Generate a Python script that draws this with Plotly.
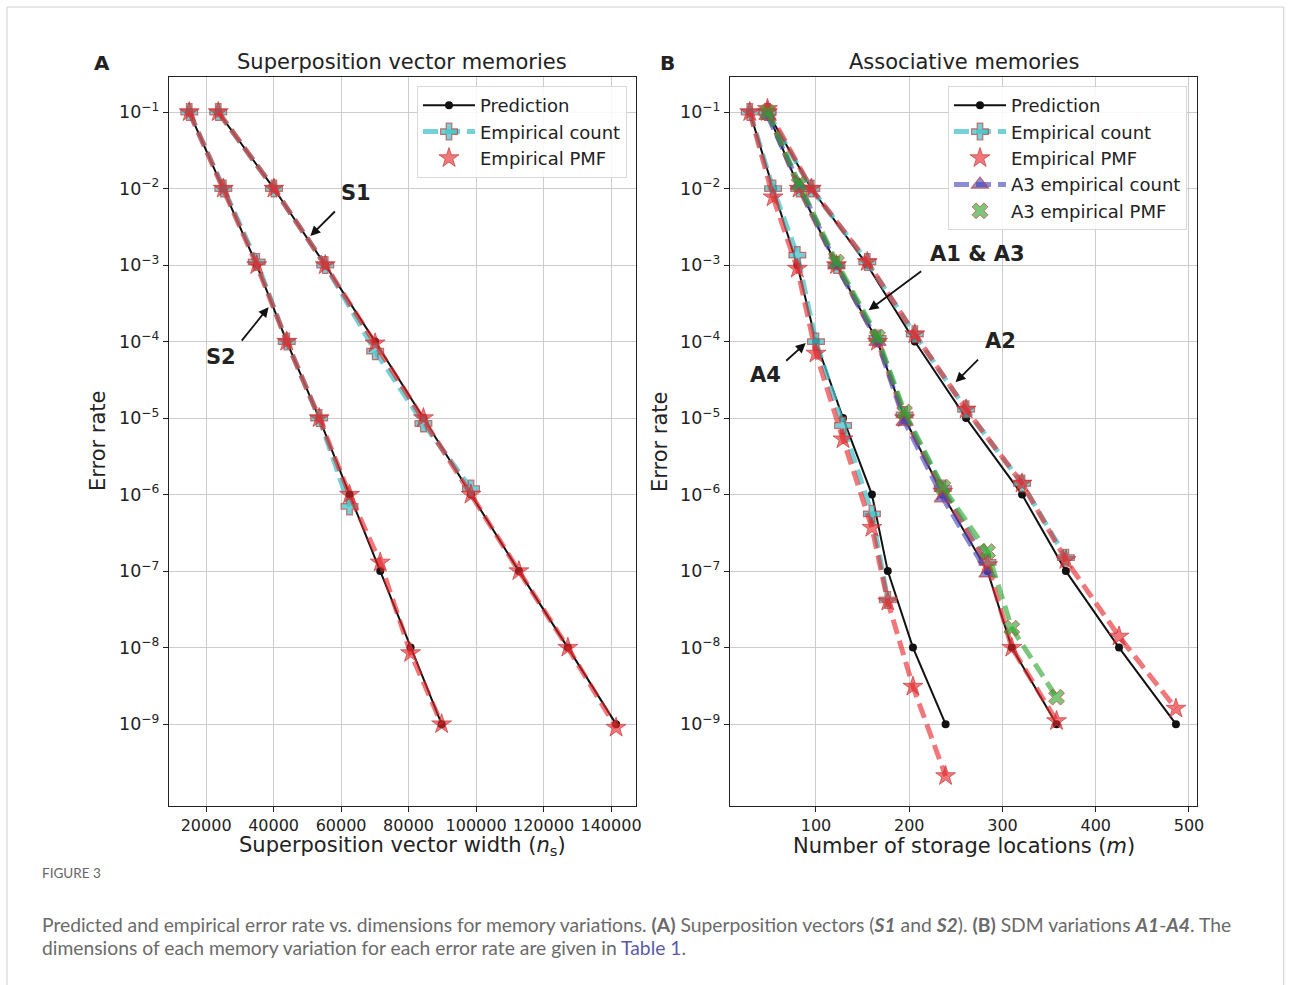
import plotly.graph_objects as go

# ---------------- data ----------------
err_levels = [1e-1, 1e-2, 1e-3, 1e-4, 1e-5, 1e-6, 1e-7, 1e-8, 1e-9]

# Panel A: superposition vectors
s1_ns = [23600, 40100, 55300, 70100, 84400, 98500, 112700, 127200, 141500]
s1_pred = [1e-1, 1e-2, 1e-3, 1e-4, 1e-5, 1e-6, 1e-7, 1e-8, 1e-9]
s1_count = [1e-1, 1e-2, 1e-3, 7.5e-5, 8.5e-6, 1.2e-6]
s1_pmf = [1e-1, 1e-2, 1e-3, 0.95e-4, 1e-5, 1e-6, 1e-7, 1e-8, 0.9e-9]

s2_ns = [15000, 25100, 35000, 43900, 53500, 62500, 71600, 80600, 89800]
s2_pred = [1e-1, 1e-2, 1e-3, 1e-4, 1e-5, 1e-6, 1e-7, 1e-8, 1e-9]
s2_count = [1e-1, 1e-2, 1.1e-3, 1e-4, 1e-5, 7e-7]
s2_pmf = [1e-1, 1e-2, 1e-3, 1e-4, 1e-5, 1e-6, 1.3e-7, 0.85e-8, 1e-9]

# Panel B: associative memories (SDM)
a1_m = [48, 82, 122, 166, 195, 236, 284, 310, 358]
a1_pred = [1e-1, 1e-2, 1e-3, 1e-4, 1e-5, 1e-6, 1e-7, 1e-8, 1e-9]
a1_count = [1e-1, 1e-2, 1e-3, 1.1e-4, 1.1e-5, 1.2e-6, 1.3e-7]
a1_pmf = [1e-1, 1e-2, 1e-3, 1e-4, 1e-5, 1.1e-6, 1.2e-7, 1e-8, 1.1e-9]

a2_m = [48, 95, 155, 206, 261, 321, 368, 425, 486]
a2_pred = [1e-1, 1e-2, 1e-3, 1e-4, 1e-5, 1e-6, 1e-7, 1e-8, 1e-9]
a2_count = [1e-1, 1e-2, 1.1e-3, 1.25e-4, 1.3e-5, 1.4e-6, 1.5e-7]
a2_pmf = [1.1e-1, 1e-2, 1.1e-3, 1.25e-4, 1.3e-5, 1.4e-6, 1.4e-7, 1.4e-8, 1.6e-9]

a3_m = [48, 82, 122, 166, 195, 236, 284, 310, 358]
a3_count = [0.9e-1, 1.1e-2, 1e-3, 1e-4, 9e-6, 9e-7, 9.4e-8]
a3_pmf = [1e-1, 1.15e-2, 1.1e-3, 1.15e-4, 1.2e-5, 1.25e-6, 1.8e-7, 1.8e-8, 2.25e-9]

a4_m = [29, 54, 80, 100, 129, 160, 177, 204, 239]
a4_pred = [1e-1, 1e-2, 1e-3, 1e-4, 1e-5, 1e-6, 1e-7, 1e-8, 1e-9]
a4_count = [1e-1, 1e-2, 1.35e-3, 1e-4, 8e-6, 5.6e-7, 4.2e-8]
a4_pmf = [1e-1, 0.77e-2, 0.9e-3, 0.7e-4, 5.3e-6, 3.7e-7, 4e-8, 3.1e-9, 2.1e-10]

xticks_a = [20000, 40000, 60000, 80000, 100000, 120000, 140000]
xticklabels_a = ["20000", "40000", "60000", "80000", "100000", "120000", "140000"]
xticks_b = [100, 200, 300, 400, 500]
ytick_labels = ["10<sup>\u22121</sup>", "10<sup>\u22122</sup>", "10<sup>\u22123</sup>",
                "10<sup>\u22124</sup>", "10<sup>\u22125</sup>", "10<sup>\u22126</sup>",
                "10<sup>\u22127</sup>", "10<sup>\u22128</sup>", "10<sup>\u22129</sup>"]

# ---------------- styles ----------------
W, H = 1292, 985
WX = 1285.0  # effective horizontal width observed in the rendered picture
FONT = "DejaVu Sans"
BLACK = "#111111"
CYAN = "rgba(70,195,200,0.75)"
RED = "rgba(230,35,40,0.62)"
BLUE = "rgba(70,70,185,0.62)"
GREEN = "rgba(45,165,45,0.62)"
EDGE = "rgba(195,60,60,0.7)"
DASH = "15px,7px"


def fx(px):
    return px / WX


def fy(py):
    return 1 - py / H


fig = go.Figure()


def pred(x, y, xa, ya, leg, show):
    fig.add_trace(go.Scatter(x=x, y=y, xaxis=xa, yaxis=ya, mode="lines+markers",
                             line=dict(color=BLACK, width=2),
                             marker=dict(symbol="circle", size=8, color=BLACK),
                             name="Prediction", legend=leg, showlegend=show))


def dashed(x, y, xa, ya, color, symbol, size, name, leg, show):
    fig.add_trace(go.Scatter(x=x, y=y, xaxis=xa, yaxis=ya, mode="lines+markers",
                             line=dict(color=color, width=5, dash=DASH),
                             marker=dict(symbol=symbol, size=size, color=color,
                                         line=dict(color=EDGE, width=1.2)),
                             name=name, legend=leg, showlegend=show))


def pmf(x, y, xa, ya, color, symbol, size, name, leg, show):
    fig.add_trace(go.Scatter(x=x, y=y, xaxis=xa, yaxis=ya, mode="lines",
                             line=dict(color=color, width=5, dash=DASH),
                             showlegend=False, hoverinfo="skip"))
    fig.add_trace(go.Scatter(x=x, y=y, xaxis=xa, yaxis=ya, mode="markers",
                             marker=dict(symbol=symbol, size=size, color=color,
                                         line=dict(color=EDGE, width=1)),
                             name=name, legend=leg, showlegend=show))


# Panel A
pred(s1_ns, s1_pred, "x", "y", "legend", True)
pred(s2_ns, s2_pred, "x", "y", "legend", False)
dashed(s1_ns[:len(s1_count)], s1_count, "x", "y", CYAN, "cross", 14, "Empirical count", "legend", True)
dashed(s2_ns[:len(s2_count)], s2_count, "x", "y", CYAN, "cross", 14, "Empirical count", "legend", False)
pmf(s1_ns, s1_pmf, "x", "y", RED, "star", 15, "Empirical PMF", "legend", True)
pmf(s2_ns, s2_pmf, "x", "y", RED, "star", 15, "Empirical PMF", "legend", False)

# Panel B
pred(a1_m, a1_pred, "x2", "y2", "legend2", True)
pred(a2_m, a2_pred, "x2", "y2", "legend2", False)
pred(a4_m, a4_pred, "x2", "y2", "legend2", False)
dashed(a1_m[:len(a1_count)], a1_count, "x2", "y2", CYAN, "cross", 14, "Empirical count", "legend2", True)
dashed(a2_m[:len(a2_count)], a2_count, "x2", "y2", CYAN, "cross", 14, "Empirical count", "legend2", False)
dashed(a4_m[:len(a4_count)], a4_count, "x2", "y2", CYAN, "cross", 14, "Empirical count", "legend2", False)
pmf(a1_m, a1_pmf, "x2", "y2", RED, "star", 15, "Empirical PMF", "legend2", True)
pmf(a2_m, a2_pmf, "x2", "y2", RED, "star", 15, "Empirical PMF", "legend2", False)
pmf(a4_m, a4_pmf, "x2", "y2", RED, "star", 15, "Empirical PMF", "legend2", False)
dashed(a3_m[:len(a3_count)], a3_count, "x2", "y2", BLUE, "triangle-up", 15, "A3 empirical count", "legend2", True)
pmf(a3_m, a3_pmf, "x2", "y2", GREEN, "x", 14, "A3 empirical PMF", "legend2", True)

# ---------------- layout ----------------
top, bottom = 77, 806
ydom = [fy(bottom), fy(top)]
yrange = [-10.07, -0.542]

axis_common = dict(showline=True, linecolor="#222", linewidth=1.2, mirror=True,
                   ticks="outside", ticklen=5, tickcolor="#222", tickwidth=1,
                   showgrid=True, gridcolor="#cccccc", gridwidth=1, zeroline=False,
                   tickfont=dict(family=FONT, size=16, color="#222"))
yaxis_font = dict(family=FONT, size=17.5, color="#222")

legend_common = dict(xanchor="left", yanchor="top", itemwidth=52,
                     bgcolor="rgba(255,255,255,0.85)", bordercolor="#d8d8d8", borderwidth=1,
                     font=dict(family=FONT, size=18, color="#222"))

fig.update_layout(
    width=W, height=H, autosize=False, margin=dict(l=0, r=0, t=0, b=0),
    paper_bgcolor="white", plot_bgcolor="white",
    font=dict(family=FONT, color="#222"),
    xaxis=dict(domain=[fx(169), fx(636)], range=[9000, 147400], tickvals=xticks_a,
               ticktext=xticklabels_a, anchor="y", **axis_common),
    yaxis=dict(domain=ydom, type="log", range=yrange, tickvals=err_levels,
               ticktext=ytick_labels, anchor="x", **{**axis_common, "tickfont": yaxis_font}),
    xaxis2=dict(domain=[fx(730), fx(1197)], range=[7.8, 508.6], tickvals=xticks_b,
                anchor="y2", **axis_common),
    yaxis2=dict(domain=ydom, type="log", range=yrange, tickvals=err_levels,
                ticktext=ytick_labels, anchor="x2", **{**axis_common, "tickfont": yaxis_font}),
    legend=dict(x=fx(417), y=fy(86), **legend_common),
    legend2=dict(x=fx(948), y=fy(86), **legend_common),
    showlegend=True,
)

ann = []


def paper_text(px, py, text, size, bold=False, color="#222", xanchor="center",
               angle=0, family=FONT):
    ann.append(dict(x=fx(px), y=fy(py), xref="paper", yref="paper",
                    text=f"<b>{text}</b>" if bold else text, showarrow=False,
                    xanchor=xanchor, yanchor="middle", textangle=angle,
                    font=dict(family=family, size=size, color=color)))


paper_text(102, 63, "A", 20, bold=True)
paper_text(667, 63, "B", 20, bold=True)
paper_text(402, 62, "Superposition vector memories", 21)
paper_text(964, 62, "Associative memories", 21)
paper_text(402, 846, "Superposition vector width (<i>n</i><sub>s</sub>)", 21)
paper_text(964, 846, "Number of storage locations (<i>m</i>)", 21)
paper_text(98, 441, "Error rate", 21, angle=-90)
paper_text(660, 441, "Error rate", 21, angle=-90)

# labels for curves
paper_text(356, 193, "S1", 21, bold=True)
paper_text(221, 357, "S2", 21, bold=True)
paper_text(977, 254, "A1 &amp; A3", 21, bold=True)
paper_text(1000, 341, "A2", 21, bold=True)
paper_text(765, 375, "A4", 21, bold=True)

# arrows (head in data coords, tail as pixel offset)
arrows = [
    ("x", "y", 50900, -2.62, 26, -26),
    ("x", "y", 38500, -3.55, -28, 35),
    ("x2", "y2", 156.5, -3.59, 54, -40),
    ("x2", "y2", 249.7, -4.53, 24, -24),
    ("x2", "y2", 89, -4.02, -21, 19),
]
for xr, yr, hx, hy, dx, dy in arrows:
    ann.append(dict(x=hx, y=hy, xref=xr, yref=yr, ax=dx, ay=dy, axref="pixel",
                    ayref="pixel", text="", showarrow=True, arrowhead=2,
                    arrowsize=1.1, arrowwidth=1.8, arrowcolor="#111", standoff=0))

# caption
CAP = "Lato"
paper_text(40, 873, "FIGURE 3", 13.5, color="#666", xanchor="left", family=CAP)
paper_text(40, 924,
           "Predicted and empirical error rate vs. dimensions for memory variations. "
           "<b>(A)</b> Superposition vectors (<b><i>S1</i></b> and <b><i>S2</i></b>). "
           "<b>(B)</b> SDM variations <b><i>A1</i></b>-<b><i>A4</i></b>. The",
           19.3, color="#6a6a6a", xanchor="left", family=CAP)
paper_text(40, 947,
           "dimensions of each memory variation for each error rate are given in "
           "<span style='color:#5a5aa8'>Table 1</span>.",
           19.3, color="#6a6a6a", xanchor="left", family=CAP)

fig.update_layout(annotations=ann)

fig.add_shape(type="rect", xref="paper", yref="paper", x0=fx(7), x1=min(fx(1290), 0.999),
              y0=-0.02, y1=fy(7), line=dict(color="#cfcfcf", width=1),
              fillcolor="rgba(0,0,0,0)", layer="below")

fig.write_html("out.html",
               config={"displayModeBar": False, "responsive": False},
               post_script="document.documentElement.style.overflow='hidden';"
                           "document.documentElement.style.margin='0';"
                           "document.body.style.margin='0';"
                           "document.body.style.padding='0';"
                           "document.body.style.overflow='hidden';")
